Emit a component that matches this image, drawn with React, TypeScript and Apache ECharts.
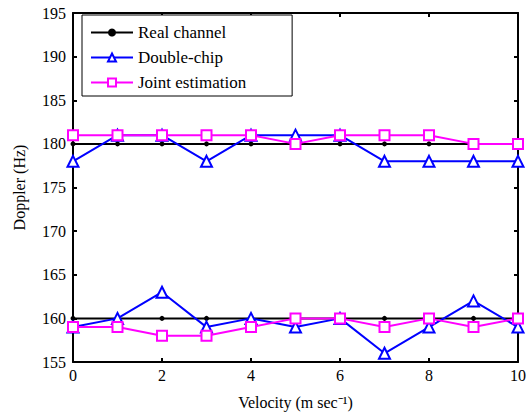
import React, { useEffect, useRef } from "react";
import * as echarts from "echarts";

const velocity = [0, 1, 2, 3, 4, 5, 6, 7, 8, 9, 10];
const realUpper = [180, 180, 180, 180, 180, 180, 180, 180, 180, 180, 180];
const realLower = [160, 160, 160, 160, 160, 160, 160, 160, 160, 160, 160];
const doubleUpper = [178, 181, 181, 178, 181, 181, 181, 178, 178, 178, 178];
const doubleLower = [159, 160, 163, 159, 160, 159, 160, 156, 159, 162, 159];
const jointUpper = [181, 181, 181, 181, 181, 180, 181, 181, 181, 180, 180];
const jointLower = [159, 159, 158, 158, 159, 160, 160, 159, 160, 159, 160];

const FONT = "'Liberation Serif', 'Times New Roman', serif";

export default function App() {
  const ref = useRef<HTMLDivElement>(null);
  useEffect(() => {
    const chart = echarts.init(ref.current!, null, { renderer: "svg" });
    const pts = (ys: number[]) => velocity.map((x, i) => [x, ys[i]]);
    const mk = (name: string, ys: number[], color: string, symbol: string, size: number, z: number) => ({
      name,
      type: "line",
      data: pts(ys),
      symbol,
      symbolSize: size,
      z,
      lineStyle: { color, width: 2 },
      itemStyle: { color, borderWidth: 2, borderColor: color },
    });
    const axisLine = { show: true, onZero: false, lineStyle: { color: "#000", width: 2 } };
    const axisTick = { show: true, inside: true, length: 4, lineStyle: { color: "#000", width: 2 } };
    const txt = { fontFamily: FONT, fontSize: 16, color: "#000" };
    chart.setOption({
      animation: false,
      backgroundColor: "#fff",
      textStyle: { fontFamily: FONT },
      grid: { left: 73, right: 13, top: 13, bottom: 52 },
      legend: {
        orient: "vertical",
        left: 82,
        top: 15,
        backgroundColor: "#fff",
        borderColor: "#000",
        borderWidth: 1,
        borderRadius: 0,
        padding: [9, 46, 5, 8],
        itemGap: 8,
        itemWidth: 42,
        itemHeight: 10,
        textStyle: { ...txt, fontSize: 17 },
        data: [
          { name: "Real channel", itemStyle: { borderWidth: 0 } },
          "Double-chip",
          "Joint estimation",
        ],
      },
      xAxis: [
        {
          type: "value",
          min: 0,
          max: 10,
          interval: 2,
          position: "bottom",
          name: "Velocity (m sec⁻¹)",
          nameLocation: "middle",
          nameGap: 32,
          nameTextStyle: txt,
          axisLine,
          axisTick,
          splitLine: { show: false },
          axisLabel: { ...txt, margin: 5 },
        },
        {
          type: "value",
          min: 0,
          max: 10,
          interval: 2,
          position: "top",
          axisLine,
          axisTick,
          splitLine: { show: false },
          axisLabel: { show: false },
        },
      ],
      yAxis: [
        {
          type: "value",
          min: 155,
          max: 195,
          interval: 5,
          position: "left",
          name: "Doppler (Hz)",
          nameLocation: "middle",
          nameGap: 46,
          nameRotate: 90,
          nameTextStyle: txt,
          axisLine,
          axisTick,
          splitLine: { show: false },
          axisLabel: { ...txt, margin: 7 },
        },
        {
          type: "value",
          min: 155,
          max: 195,
          interval: 5,
          position: "right",
          axisLine,
          axisTick,
          splitLine: { show: false },
          axisLabel: { show: false },
        },
      ],
      series: [
        mk("Real channel", realUpper, "#000", "circle", 3, 2),
        mk("Real channel", realLower, "#000", "circle", 3, 2),
        mk("Double-chip", doubleUpper, "#0000ff", "emptyTriangle", 11, 3),
        mk("Double-chip", doubleLower, "#0000ff", "emptyTriangle", 11, 3),
        mk("Joint estimation", jointUpper, "#ff00ff", "emptyRect", 10, 4),
        mk("Joint estimation", jointLower, "#ff00ff", "emptyRect", 10, 4),
      ],
    });
    return () => chart.dispose();
  }, []);
  return <div ref={ref} style={{ width: 531, height: 415, position: "absolute", left: 0, top: 0 }} />;
}
